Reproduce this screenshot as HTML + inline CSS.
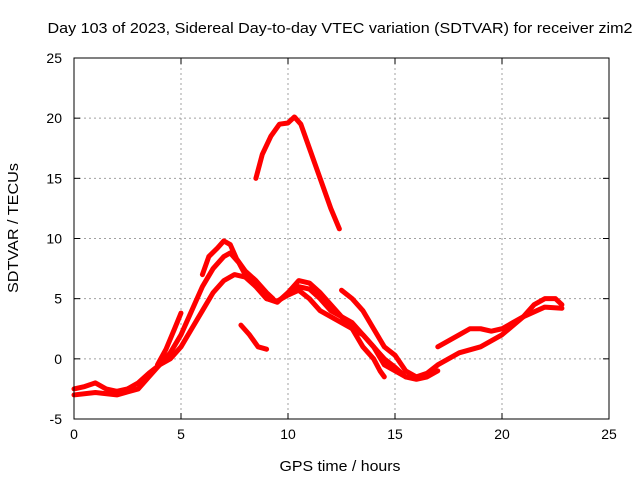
<!DOCTYPE html>
<html><head><meta charset="utf-8"><style>
body{margin:0;background:#fff}
svg{display:block;font-family:"Liberation Sans",sans-serif}
</style></head><body>
<svg id="chart" width="640" height="480">
<text x="340" y="33" text-anchor="middle" font-size="15" textLength="585" lengthAdjust="spacingAndGlyphs">Day 103 of 2023, Sidereal Day-to-day VTEC variation (SDTVAR) for receiver zim2</text>
<text x="340" y="471" text-anchor="middle" font-size="15" textLength="121" lengthAdjust="spacingAndGlyphs">GPS time / hours</text>
<text transform="translate(18,228) rotate(-90)" text-anchor="middle" font-size="15" textLength="130" lengthAdjust="spacingAndGlyphs">SDTVAR / TECUs</text>
<g id="grid"></g><g id="series"></g><g id="axes"></g>
</svg>
<script>
const xTicks=[0,5,10,15,20,25];
const yTicks=[-5,0,5,10,15,20,25];
const s1x=[8.5,8.8,9.2,9.6,10,10.3,10.6,11,11.5,12,12.4];
const s1y=[15,17,18.5,19.5,19.6,20.1,19.5,17.5,15,12.5,10.8];
const s2x=[0,0.5,1,1.5,2,2.5,3,3.5,4,4.5,5,5.5,6,6.5,7,7.3,7.7,8,8.5,9,9.5,10,10.5,11,11.5,12,12.5,13,13.5,14,14.5,15,15.5,16,16.5,17,17.5,18,19,20,21,22,22.8];
const s2y=[-2.5,-2.3,-2,-2.5,-2.7,-2.5,-2,-1.2,-0.5,0.5,2,4,6,7.5,8.5,8.8,8,7,6,5,4.7,5.5,6,5.8,5,4,3.5,3,2,1,0,-0.7,-1.5,-1.5,-1.2,-0.5,0,0.5,1,2,3.5,4.3,4.2];
const s3x=[0,1,2,3,3.5,4,4.5,5,5.5,6,6.5,7,7.5,8,8.5,9,9.5,10,10.5,11,11.5,12,12.5,13,13.5,14,14.5,15,15.5,16,16.5,17];
const s3y=[-3,-2.8,-3,-2.5,-1.5,-0.5,0,1,2.5,4,5.5,6.5,7,6.8,6,5,4.8,5.3,5.7,5,4,3.5,3,2.5,2,1,-0.5,-1,-1.5,-1.7,-1.5,-1];
const s4x=[6,6.3,6.7,7,7.3,7.6,8,8.5,9,9.3];
const s4y=[7,8.5,9.2,9.8,9.5,8.3,7.3,6.5,5.5,5];
const s5x=[3.9,4.3,4.7,5];
const s5y=[-0.5,0.8,2.5,3.8];
const s6x=[7.8,8.2,8.6,9];
const s6y=[2.8,2,1,0.8];
const s7x=[12.5,13,13.5,14,14.5,15,15.5,16];
const s7y=[5.7,5,4,2.5,1,0.3,-1,-1.5];
const s8x=[10,10.5,11,11.5,12,12.5,13,13.5,14,14.3,14.5];
const s8y=[5.5,6.5,6.3,5.5,4.5,3.5,2.5,1,0,-1,-1.5];
const s9x=[17,17.5,18,18.5,19,19.5,20,20.5,21,21.5,22,22.5,22.8];
const s9y=[1,1.5,2,2.5,2.5,2.3,2.5,3,3.5,4.5,5,5,4.5];
const seriesX=[s1x,s2x,s3x,s4x,s5x,s6x,s7x,s8x,s9x];
const seriesY=[s1y,s2y,s3y,s4y,s5y,s6y,s7y,s8y,s9y];
const L=74,R=609,T=58,B=419;
const xs=v=>L+(v-0)/25*(R-L);
const ys=v=>B-(v+5)/30*(B-T);
const NS="http://www.w3.org/2000/svg";
function mk(t,a,p){const e=document.createElementNS(NS,t);for(const k in a)e.setAttribute(k,a[k]);p.appendChild(e);return e;}
const g=document.getElementById('grid'),ax=document.getElementById('axes'),se=document.getElementById('series');
xTicks.forEach(t=>{const x=xs(t);
 if(t>0&&t<25){const l=mk('line',{x1:x,x2:x,y1:T,y2:B,stroke:'#a0a0a0','stroke-dasharray':'2,3'},g);
 
 }
 mk('line',{x1:x,x2:x,y1:B,y2:B-6,stroke:'#000'},ax);mk('line',{x1:x,x2:x,y1:T,y2:T+6,stroke:'#000'},ax);
 const tx=mk('text',{x:x,y:B+20,'text-anchor':'middle','font-size':14},ax);tx.textContent=t;
 
 
});
yTicks.forEach(t=>{const y=ys(t);
 if(t>-5&&t<25){const l=mk('line',{x1:L,x2:R,y1:y,y2:y,stroke:'#a0a0a0','stroke-dasharray':'2,3'},g);
 
 }
 mk('line',{x1:L,x2:L+6,y1:y,y2:y,stroke:'#000'},ax);mk('line',{x1:R,x2:R-6,y1:y,y2:y,stroke:'#000'},ax);
 const tx=mk('text',{x:L-12,y:y+5,'text-anchor':'end','font-size':14},ax);tx.textContent=t;
 
 
});
const fr=mk('rect',{x:L,y:T,width:R-L,height:B-T,fill:'none',stroke:'#000'},ax);


seriesX.forEach((X,i)=>{const Y=seriesY[i];
 const pts=X.map((v,j)=>xs(v)+','+ys(Y[j])).join(' ');
 const p=mk('polyline',{points:pts,fill:'none',stroke:'#ff0000','stroke-width':5,'stroke-linejoin':'round','stroke-linecap':'round'},se);
 
 
});
</script>
</body></html>
